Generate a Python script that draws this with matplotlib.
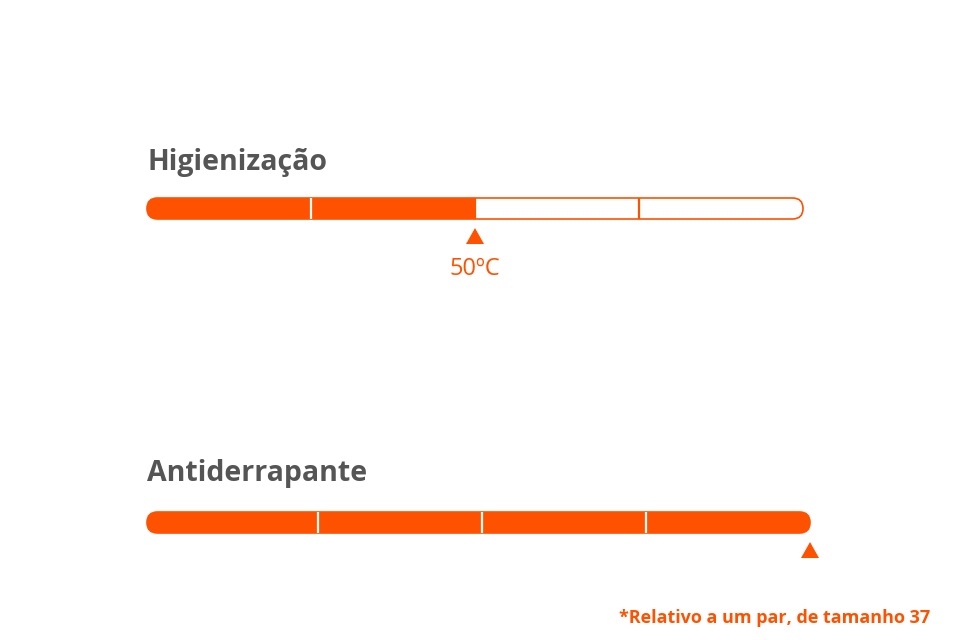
import matplotlib
matplotlib.use("Agg")
import matplotlib.pyplot as plt
from matplotlib.patches import FancyBboxPatch, Rectangle, Polygon

# ---- data ----
titles = ["Higienização", "Antiderrapante"]
levels = [2, 4]                 # filled segments (of 4)
n_segments = 4
marker_labels = ["50ºC", ""]
footnote = "*Relativo a um par, de tamanho 37"

# ---- layout (pixel-like coordinates) ----
ORANGE = "#FF5200"
GREY = "#555555"
bar_left = [147, 147]
bar_right = [803, 810]
bar_boundaries = [[147, 311, 475, 639, 803], [147, 318, 482, 646, 810]]
bar_top = [198, 512]
bar_h = 21
title_y = [170, 481]

fig = plt.figure(figsize=(9.6, 6.4), dpi=100)
ax = fig.add_axes([0, 0, 1, 1])
ax.set_xlim(0, 960)
ax.set_ylim(640, 0)
ax.axis("off")

for i in range(len(titles)):
    L, R, T = bar_left[i], bar_right[i], bar_top[i]
    b = bar_boundaries[i]
    fill_x = b[levels[i]]
    ax.text(L, title_y[i], titles[i], fontsize=20.5, fontweight="bold",
            family="Open Sans", color=GREY, ha="left", va="baseline")
    outline = FancyBboxPatch((L, T), R - L, bar_h,
                             boxstyle=f"round,pad=0,rounding_size={bar_h/2}",
                             facecolor="white", edgecolor=ORANGE, lw=1.2, zorder=2)
    ax.add_patch(outline)
    clip = FancyBboxPatch((L, T), R - L, bar_h,
                          boxstyle=f"round,pad=0,rounding_size={bar_h/2}",
                          facecolor="none", edgecolor="none")
    ax.add_patch(clip)
    fill = Rectangle((L - 2, T - 2), fill_x - L + 2, bar_h + 4,
                     facecolor=ORANGE, edgecolor="none", zorder=3)
    ax.add_patch(fill)
    fill.set_clip_path(clip)
    for d in b[1:-1]:
        col = "white" if d < fill_x else ORANGE
        ax.plot([d, d], [T, T + bar_h], color=col, lw=1.6, zorder=4,
                solid_capstyle="butt")
    # marker triangle
    ty = T + bar_h + 9
    tri = Polygon([[fill_x - 9, ty + 16], [fill_x + 9, ty + 16], [fill_x, ty]],
                  closed=True, facecolor=ORANGE, edgecolor="none", zorder=4)
    ax.add_patch(tri)
    if marker_labels[i]:
        ax.text(fill_x, ty + 41, marker_labels[i], fontsize=17, family="Open Sans",
                color=ORANGE, ha="center", va="center")

ax.text(930, 618, footnote, fontsize=13, fontweight="bold", family="Open Sans",
        color=ORANGE, ha="right", va="center")

fig.savefig("out.png", dpi=100, facecolor="white")
